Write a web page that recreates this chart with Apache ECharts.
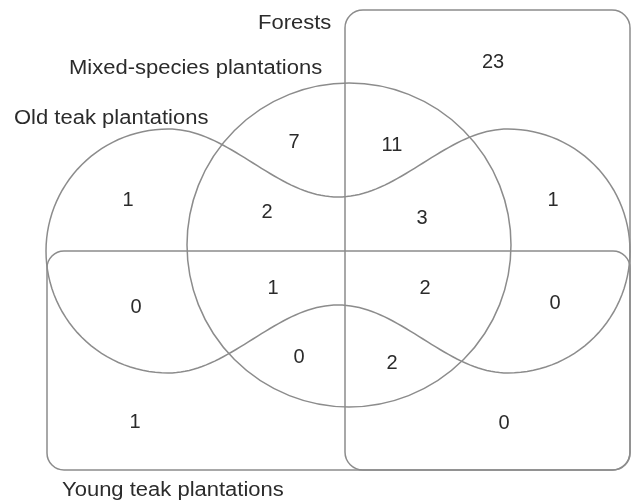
<!DOCTYPE html>
<html>
<head>
<meta charset="utf-8">
<title>Venn</title>
<script src="https://cdn.jsdelivr.net/npm/echarts@6/dist/echarts.min.js"></script>
<style>
    html, body { margin: 0; padding: 0; background: #fff; }
    #chart { width: 633px; height: 502px; }
</style>
</head>
<body>
<div id="chart"></div>
<script>
// sets and the number of species found in each region
var setNames = ['Forests', 'Mixed-species plantations', 'Old teak plantations', 'Young teak plantations'];
var regionCounts = [23, 7, 11, 1, 2, 3, 1, 0, 1, 2, 0, 0, 2, 1, 0];

// layout of the diagram (in diagram units, same size as the page)
var setLabelAnchors = [[258, 23], [69, 68], [14, 118], [62, 490]];
var regionAnchors = [
    [493, 62], [294, 142], [392, 145],
    [128, 200], [267, 212], [422, 218], [553, 200],
    [136, 307], [273, 288], [425, 288], [555, 303],
    [299, 357], [392, 363],
    [135, 422], [504, 423]
];
var forestBox = [345, 10, 630, 470, 18];
var youngBox = [47, 251, 630, 470, 17];
var mixedCircle = [349, 245, 162];
var oldTeak = { left: 168, right: 508, cy: 251, r: 122, waist: 54 };

var lineColor = '#8c8c8c';
var textColor = '#2b2b2b';
var fontFamily = 'Arial, "Liberation Sans", sans-serif';

var myChart = echarts.init(document.getElementById('chart'));

function boxShape(api, b) {
    var p0 = api.coord([b[0], b[1]]);
    var p1 = api.coord([b[2], b[3]]);
    return {
        type: 'rect',
        shape: { x: p0[0], y: p0[1], width: p1[0] - p0[0], height: p1[1] - p0[1], r: b[4] },
        style: { fill: 'none', stroke: lineColor, lineWidth: 1.5 }
    };
}

function oldTeakPoints(api) {
    var t = oldTeak, pts = [], i, a, x, y;
    var span = t.right - t.left;
    // top waist, left to right
    for (i = 0; i <= 80; i++) {
        x = t.left + span * i / 80;
        y = t.cy - (t.r + t.waist) / 2 - (t.r - t.waist) / 2 * Math.cos(2 * Math.PI * i / 80);
        pts.push(api.coord([x, y]));
    }
    // right lobe
    for (i = 1; i <= 60; i++) {
        a = -Math.PI / 2 + Math.PI * i / 60;
        pts.push(api.coord([t.right + t.r * Math.cos(a), t.cy + t.r * Math.sin(a)]));
    }
    // bottom waist, right to left
    for (i = 1; i <= 80; i++) {
        x = t.right - span * i / 80;
        y = t.cy + (t.r + t.waist) / 2 + (t.r - t.waist) / 2 * Math.cos(2 * Math.PI * i / 80);
        pts.push(api.coord([x, y]));
    }
    // left lobe
    for (i = 1; i <= 60; i++) {
        a = Math.PI / 2 + Math.PI * i / 60;
        pts.push(api.coord([t.left + t.r * Math.cos(a), t.cy + t.r * Math.sin(a)]));
    }
    return pts;
}

var option = {
    animation: false,
    grid: { left: 0, right: 0, top: 0, bottom: 0 },
    xAxis: { type: 'value', min: 0, max: 633, show: false },
    yAxis: { type: 'value', min: 0, max: 502, inverse: true, show: false },
    series: [
        {
            type: 'custom',
            silent: true,
            data: [0],
            renderItem: function (params, api) {
                var c = api.coord([mixedCircle[0], mixedCircle[1]]);
                var rad = api.size([mixedCircle[2], 0])[0];
                return {
                    type: 'group',
                    children: [
                        boxShape(api, forestBox),
                        boxShape(api, youngBox),
                        {
                            type: 'circle',
                            shape: { cx: c[0], cy: c[1], r: rad },
                            style: { fill: 'none', stroke: lineColor, lineWidth: 1.5 }
                        },
                        {
                            type: 'polygon',
                            shape: { points: oldTeakPoints(api) },
                            style: { fill: 'none', stroke: lineColor, lineWidth: 1.5 }
                        }
                    ]
                };
            }
        },
        {
            type: 'custom',
            silent: true,
            data: setNames.map(function (n, i) { return [setLabelAnchors[i][0], setLabelAnchors[i][1]]; }),
            renderItem: function (params, api) {
                var p = api.coord([api.value(0), api.value(1)]);
                return {
                    type: 'text',
                    x: p[0], y: p[1], scaleX: 1.1,
                    style: {
                        x: 0, y: 0, text: setNames[params.dataIndex],
                        fill: textColor, font: '20px ' + fontFamily,
                        align: 'left', verticalAlign: 'middle'
                    }
                };
            }
        },
        {
            type: 'custom',
            silent: true,
            data: regionCounts.map(function (v, i) { return [regionAnchors[i][0], regionAnchors[i][1], v]; }),
            renderItem: function (params, api) {
                var p = api.coord([api.value(0), api.value(1)]);
                return {
                    type: 'text',
                    style: {
                        x: p[0], y: p[1], text: String(api.value(2)),
                        fill: textColor, font: '20px ' + fontFamily,
                        align: 'center', verticalAlign: 'middle'
                    }
                };
            }
        }
    ]
};
myChart.setOption(option);
</script>
</body>
</html>
